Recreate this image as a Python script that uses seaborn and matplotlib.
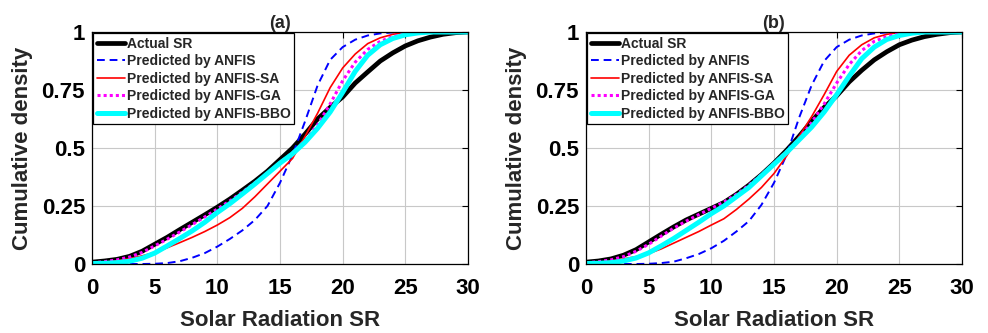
import matplotlib
matplotlib.use("Agg")
import matplotlib.pyplot as plt
import numpy as np
import pandas as pd
import seaborn as sns

# Solar radiation grid (x values) shared by every curve
sr = list(range(0, 31))

# Panel (a) cumulative densities
actual_a = [0.008, 0.013, 0.02, 0.033, 0.055, 0.085, 0.115, 0.148, 0.18, 0.212,
            0.245, 0.28, 0.318, 0.357, 0.40, 0.45, 0.50, 0.56, 0.625, 0.675,
            0.72, 0.78, 0.828, 0.875, 0.91, 0.94, 0.962, 0.978, 0.99, 0.997, 1.0]
anfis_a = [0, 0, 0, 0, 0, 0.001, 0.004, 0.012, 0.027, 0.047,
           0.075, 0.108, 0.145, 0.19, 0.25, 0.35, 0.47, 0.615, 0.77, 0.88,
           0.935, 0.967, 0.985, 0.994, 0.998, 1.0, 1.0, 1.0, 1.0, 1.0, 1.0]
sa_a = [0.005, 0.008, 0.014, 0.023, 0.035, 0.05, 0.07, 0.092, 0.115, 0.14,
        0.168, 0.2, 0.24, 0.29, 0.345, 0.40, 0.455, 0.55, 0.65, 0.76,
        0.845, 0.905, 0.95, 0.975, 0.99, 0.998, 1.0, 1.0, 1.0, 1.0, 1.0]
ga_a = [0.005, 0.01, 0.018, 0.03, 0.05, 0.078, 0.107, 0.138, 0.17, 0.203,
        0.237, 0.272, 0.31, 0.35, 0.392, 0.437, 0.48, 0.53, 0.6, 0.69,
        0.79, 0.87, 0.925, 0.96, 0.98, 0.992, 0.998, 1.0, 1.0, 1.0, 1.0]
bbo_a = [0.002, 0.003, 0.006, 0.012, 0.025, 0.047, 0.078, 0.11, 0.143, 0.18,
         0.222, 0.26, 0.302, 0.345, 0.39, 0.435, 0.475, 0.525, 0.585, 0.655,
         0.74, 0.83, 0.9, 0.945, 0.972, 0.988, 0.996, 1.0, 1.0, 1.0, 1.0]

# Panel (b) cumulative densities
actual_b = [0.008, 0.013, 0.022, 0.038, 0.062, 0.095, 0.128, 0.16, 0.19, 0.215,
            0.24, 0.265, 0.3, 0.34, 0.385, 0.435, 0.49, 0.55, 0.615, 0.675,
            0.725, 0.785, 0.835, 0.88, 0.915, 0.945, 0.965, 0.98, 0.99, 0.997, 1.0]
anfis_b = [0, 0, 0, 0, 0, 0.001, 0.004, 0.01, 0.025, 0.043,
           0.068, 0.1, 0.14, 0.185, 0.255, 0.35, 0.47, 0.63, 0.77, 0.875,
           0.935, 0.967, 0.985, 0.994, 0.998, 1.0, 1.0, 1.0, 1.0, 1.0, 1.0]
sa_b = [0.005, 0.008, 0.013, 0.022, 0.032, 0.045, 0.065, 0.09, 0.115, 0.14,
        0.168, 0.195, 0.235, 0.28, 0.33, 0.39, 0.465, 0.55, 0.635, 0.73,
        0.83, 0.9, 0.945, 0.975, 0.99, 0.998, 1.0, 1.0, 1.0, 1.0, 1.0]
ga_b = [0.005, 0.01, 0.018, 0.032, 0.055, 0.085, 0.12, 0.155, 0.185, 0.213,
        0.24, 0.267, 0.3, 0.34, 0.385, 0.435, 0.485, 0.54, 0.61, 0.69,
        0.78, 0.86, 0.92, 0.96, 0.98, 0.993, 0.998, 1.0, 1.0, 1.0, 1.0]
bbo_b = [0.002, 0.003, 0.006, 0.013, 0.026, 0.048, 0.078, 0.11, 0.145, 0.18,
         0.217, 0.25, 0.29, 0.33, 0.38, 0.43, 0.48, 0.535, 0.59, 0.655,
         0.73, 0.81, 0.885, 0.935, 0.968, 0.985, 0.995, 1.0, 1.0, 1.0, 1.0]

labels = ["Actual SR", "Predicted by ANFIS", "Predicted by ANFIS-SA",
          "Predicted by ANFIS-GA", "Predicted by ANFIS-BBO"]
panels = {"(a)": [actual_a, anfis_a, sa_a, ga_a, bbo_a],
          "(b)": [actual_b, anfis_b, sa_b, ga_b, bbo_b]}

styles = [
    dict(color="black", lw=3.4, linestyle="-"),
    dict(color="#0000ff", lw=1.4, linestyle=(0, (4, 2.5))),
    dict(color="#ff0000", lw=1.2, linestyle="-"),
    dict(color="#ff00ff", lw=2.2, linestyle=(0, (1, 1))),
    dict(color="#00ffff", lw=3.6, linestyle="-"),
]

sns.set_style("whitegrid")
plt.rcParams["font.family"] = ["Liberation Sans", "DejaVu Sans"]
plt.rcParams["font.weight"] = "bold"

fig = plt.figure(figsize=(9.88, 3.33), dpi=100)
axes_pos = [[0.0931, 0.2072, 0.3806, 0.6967],
            [0.5931, 0.2072, 0.3806, 0.6967]]

for pos, (title, series) in zip(axes_pos, panels.items()):
    ax = fig.add_axes(pos)
    for vals, lab, st in zip(series, labels, styles):
        df = pd.DataFrame({"SR": sr, "density": vals})
        sns.lineplot(data=df, x="SR", y="density", ax=ax, label=lab, **st)
    ax.set_xlim(0, 30)
    ax.set_ylim(0, 1)
    ax.set_xticks([0, 5, 10, 15, 20, 25, 30])
    ax.set_yticks([0, 0.25, 0.5, 0.75, 1])
    ax.set_yticklabels(["0", "0.25", "0.5", "0.75", "1"])
    ax.tick_params(labelsize=16, direction="in", length=4, width=0.8,
                   colors="black", top=True, right=True)
    ax.tick_params(axis="x", pad=10)
    ax.tick_params(axis="y", pad=5)
    for lbl in ax.get_xticklabels() + ax.get_yticklabels():
        lbl.set_fontweight("bold")
    ax.grid(True, color="#c8c8c8", lw=0.8)
    for sp in ax.spines.values():
        sp.set_color("black")
        sp.set_linewidth(0.9)
    ax.set_xlabel("Solar Radiation SR", fontsize=16, fontweight="bold", labelpad=8)
    ax.set_ylabel("Cumulative density", fontsize=16, fontweight="bold", labelpad=6)
    ax.set_title(title, fontsize=13, fontweight="bold", pad=3)
    leg = ax.legend(loc="upper left", fontsize=10, frameon=True, fancybox=False,
                    borderaxespad=0.1, handlelength=2.0, handletextpad=0.15,
                    labelspacing=0.25, borderpad=0.25)
    leg.get_frame().set_edgecolor("black")
    leg.get_frame().set_linewidth(0.9)
    leg.get_frame().set_alpha(1)
    for t in leg.get_texts():
        t.set_fontweight("bold")

fig.savefig("out.png", dpi=100)
